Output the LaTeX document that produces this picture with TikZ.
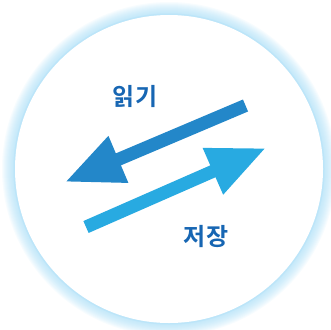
\documentclass[tikz,border=0pt]{standalone}
\usepackage{fontspec}
\newfontfamily\krfont{Noto Sans CJK KR Bold}
\usetikzlibrary{arrows.meta}
\definecolor{readblue}{HTML}{2387C9}
\definecolor{saveblue}{HTML}{28AAE1}
\definecolor{labelblue}{HTML}{1766B3}
\definecolor{glowblue}{HTML}{9FDAF6}
\begin{document}
\begin{tikzpicture}[x=1pt, y=-1pt]
\tikzset{
    every node/.style={font=\krfont\fontsize{24}{24}\selectfont, text=labelblue, inner sep=0pt},
    flow/.style={line width=13pt, -{Triangle[length=58pt, width=47pt]}}
}
\useasboundingbox (0,0) rectangle (331,329);

% glow round the disc
\foreach \i in {12,11,...,1}
    \fill[glowblue, opacity=0.075] (169,169) circle (155+\i);
\fill[glowblue!70] (169,169) circle (155.5);
\fill[white] (169,169) circle (154);

% ends of the two arrows
\coordinate (readtail) at (245.5,105.5);
\coordinate (readtip) at (65,182);
\coordinate (savetail) at (86,227);
\coordinate (savetip) at (266,148);

\draw[flow, readblue] (readtail) -- (readtip);
\draw[flow, saveblue] (savetail) -- (savetip);

\node (read) at (135,96) {읽기};
\node (save) at (206,237) {저장};
\end{tikzpicture}
\end{document}
